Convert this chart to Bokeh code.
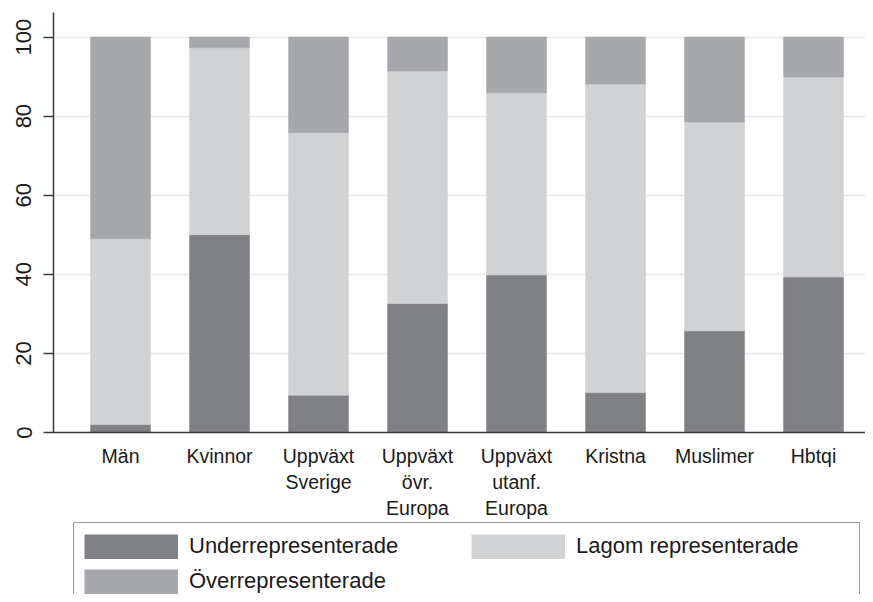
from bokeh.plotting import figure
from bokeh.models import ColumnDataSource, Legend, LegendItem, FixedTicker, Range1d
from bokeh.layouts import column
from bokeh.embed import file_html
from bokeh.resources import INLINE

categories = ["Män", "Kvinnor", "Uppväxt\nSverige", "Uppväxt\növr.\nEuropa",
              "Uppväxt\nutanf.\nEuropa", "Kristna", "Muslimer", "Hbtqi"]
under = [2.0, 50.0, 9.4, 32.6, 39.8, 10.1, 25.7, 39.3]
lagom = [47.0, 47.3, 66.4, 58.8, 46.1, 78.0, 52.8, 50.6]
over = [51.0, 2.7, 24.2, 8.6, 14.1, 11.9, 21.5, 10.1]
series_names = ["Underrepresenterade", "Lagom representerade", "Överrepresenterade"]
y_ticks = [0, 20, 40, 60, 80, 100]

colors = ["#808184", "#d1d2d4", "#a7a8ab"]
FONT = "Liberation Sans"
AXIS_COLOR = "#3a3a3a"
TEXT_COLOR = "#1a1a1a"

xpos = list(range(len(categories)))
src = ColumnDataSource(dict(x=xpos, under=under, lagom=lagom, over=over))

W = 865
H1 = 522
H2 = 72

p = figure(width=W, height=H1, output_backend="svg", toolbar_location=None,
           x_range=Range1d(-0.677, 7.525), y_range=Range1d(0, 106.2),
           min_border_left=53, min_border_right=0, min_border_top=12,
           min_border_bottom=80, background_fill_color="white",
           border_fill_color="white")
p.outline_line_color = None

rs = p.vbar_stack(["under", "lagom", "over"], x="x", width=0.606, source=src,
                  fill_color=colors, line_color=colors, line_width=0.5)

# x axis
p.xaxis.ticker = FixedTicker(ticks=xpos)
p.xaxis.major_label_overrides = {i: c for i, c in enumerate(categories)}
p.xaxis.major_tick_line_color = None
p.xaxis.minor_tick_line_color = None
p.xaxis.major_label_text_font = FONT
p.xaxis.major_label_text_font_size = "19.5px"
p.xaxis.major_label_text_color = TEXT_COLOR
p.xaxis.major_label_standoff = 6
p.xaxis.axis_line_color = AXIS_COLOR
p.xaxis.axis_line_width = 1.5
p.xgrid.visible = False

# y axis
p.yaxis.ticker = FixedTicker(ticks=y_ticks)
p.yaxis.minor_tick_line_color = None
p.yaxis.major_tick_in = 0
p.yaxis.major_tick_out = 10
p.yaxis.major_tick_line_color = AXIS_COLOR
p.yaxis.major_tick_line_width = 1.5
p.yaxis.axis_line_color = AXIS_COLOR
p.yaxis.axis_line_width = 1.5
p.yaxis.major_label_orientation = "vertical"
p.yaxis.major_label_text_font = FONT
p.yaxis.major_label_text_font_size = "22px"
p.yaxis.major_label_text_color = TEXT_COLOR
p.yaxis.major_label_standoff = 12
p.ygrid.ticker = FixedTicker(ticks=y_ticks)
p.ygrid.grid_line_color = "#e8e8e8"
p.ygrid.grid_line_width = 1.5

# legend panel (separate figure so the box can run past the bottom edge)
p2 = figure(width=W, height=H2, output_backend="svg", toolbar_location=None,
            x_axis_type=None, y_axis_type=None,
            x_range=Range1d(0, 1), y_range=Range1d(0, 1),
            min_border_left=0, min_border_right=0, min_border_top=0,
            min_border_bottom=0, background_fill_color="white",
            border_fill_color="white")
p2.outline_line_color = None
p2.xgrid.visible = False
p2.ygrid.visible = False
nan = float("nan")
swatches = {n: p2.line(x=[nan, nan], y=[nan, nan], line_color=c, line_width=25,
                       line_cap="butt")
            for n, c in zip(series_names, colors)}

legend_order = [series_names[0], series_names[2], series_names[1]]
legend = Legend(
    items=[LegendItem(label=n, renderers=[swatches[n]]) for n in legend_order],
    location=(20, -11), orientation="vertical", ncols=2,
    glyph_width=94, glyph_height=25, label_standoff=11, label_width=273,
    spacing=9, padding=10, margin=0,
    label_text_font=FONT, label_text_font_size="22px", label_text_color=TEXT_COLOR,
    border_line_color=AXIS_COLOR, border_line_width=1.2,
    background_fill_color="white", background_fill_alpha=1.0,
)
p2.add_layout(legend)

layout = column(p, p2, spacing=0)
open("out.html", "w").write(file_html(layout, INLINE))
